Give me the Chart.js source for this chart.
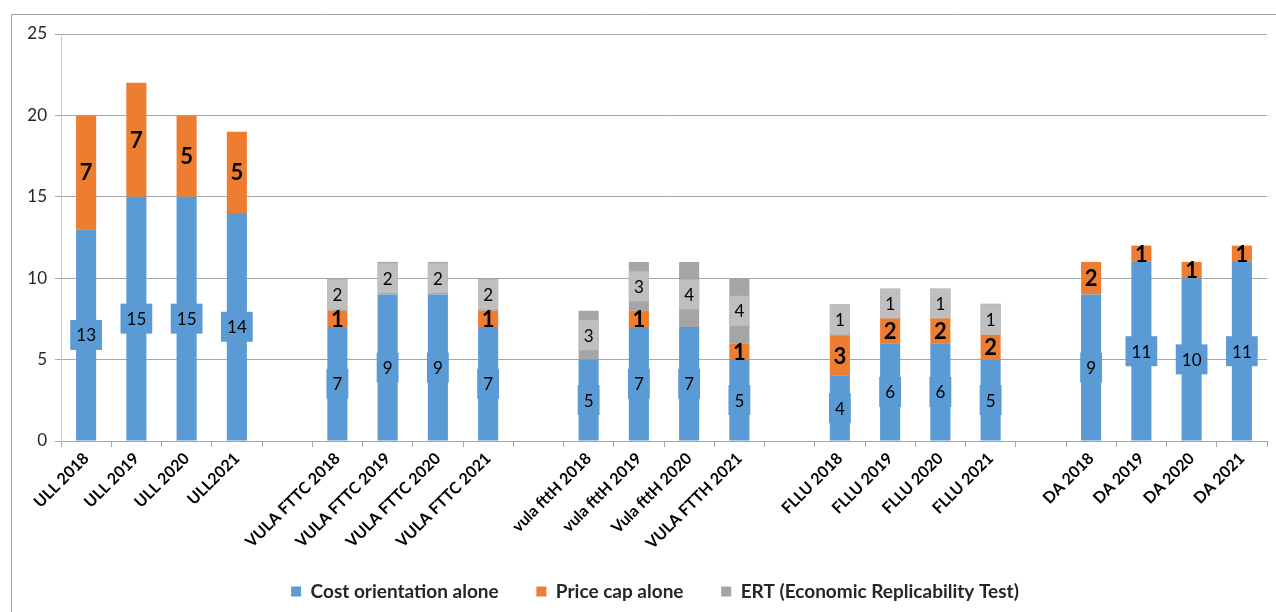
<!DOCTYPE html>
<html>
<head>
<meta charset="UTF-8" />
<script src="https://cdn.jsdelivr.net/npm/chart.js"></script>
<style>
  body, html { margin: 0; padding: 0; background: #fff; }
  #wrap { width: 1276px; height: 612px; }
</style>
</head>
<body>
<div id="wrap"><canvas id="myChart" width="1276" height="612"></canvas></div>
<script>
const categories = [
  'ULL 2018', 'ULL 2019', 'ULL 2020', 'ULL2021', '',
  'VULA FTTC 2018', 'VULA FTTC 2019', 'VULA FTTC 2020', 'VULA FTTC 2021', '',
  'vula fttH 2018', 'vula fttH 2019', 'Vula fttH 2020', 'VULA FTTH 2021', '',
  'FLLU 2018', 'FLLU 2019', 'FLLU 2020', 'FLLU 2021', '',
  'DA 2018', 'DA 2019', 'DA 2020', 'DA 2021'
];
const costOrientation = [13, 15, 15, 14, null, 7, 9, 9, 7, null, 5, 7, 7, 5, null, 4, 6, 6, 5, null, 9, 11, 10, 11];
const priceCap = [7, 7, 5, 5, null, 1, 0, 0, 1, null, 0, 1, 0, 1, null, 2.5, 1.55, 1.55, 1.53, null, 2, 1, 1, 1];
const ert = [0, 0, 0, 0, null, 2, 2, 2, 2, null, 3, 3, 4, 4, null, 1.9, 1.8, 1.8, 1.9, null, 0, 0, 0, 0];
// labels as printed on the bars
const costLabels = [13, 15, 15, 14, null, 7, 9, 9, 7, null, 5, 7, 7, 5, null, 4, 6, 6, 5, null, 9, 11, 10, 11];
const priceLabels = [7, 7, 5, 5, null, 1, null, null, 1, null, null, 1, null, 1, null, 3, 2, 2, 2, null, 2, 1, 1, 1];
const ertLabels = [null, null, null, null, null, 2, 2, 2, 2, null, 3, 3, 4, 4, null, 1, 1, 1, 1, null, null, null, null, null];
const yTicks = [0, 5, 10, 15, 20, 25];

const FONT = 'Lato, "Open Sans", sans-serif';
const BLUE = '#5b9bd5', ORANGE = '#ed7d31', GRAY = '#a5a5a5';

const frame = {
  id: 'frame',
  afterLayout(chart) {
    // legend sits a bit right of centre in the original
    chart.legend.left += 16;
    chart.legend.right += 16;
  },
  beforeDraw(chart) {
    const c = chart.ctx;
    c.save();
    c.strokeStyle = '#a0a0a0';
    c.lineWidth = 1;
    c.beginPath();
    c.moveTo(11.5, 612);
    c.lineTo(11.5, 14.5);
    c.lineTo(1276, 14.5);
    c.stroke();
    c.restore();
  }
};

const barLabels = {
  id: 'barLabels',
  afterDatasetsDraw(chart) {
    const c = chart.ctx;
    const sets = [
      { labels: costLabels, box: BLUE, font: 'normal 17px ' + FONT, pad: 6 },
      { labels: priceLabels, box: null, font: 'bold 22px ' + FONT, pad: 0 },
      { labels: ertLabels, box: '#bfbfbf', font: 'normal 17px ' + FONT, pad: 0 }
    ];
    c.save();
    c.textAlign = 'center';
    c.textBaseline = 'middle';
    sets.forEach((s, i) => {
      const meta = chart.getDatasetMeta(i);
      meta.data.forEach((bar, j) => {
        const lab = s.labels[j];
        if (lab === null || lab === undefined) return;
        const cy = (bar.y + bar.base) / 2;
        c.font = s.font;
        const tw = c.measureText(String(lab)).width;
        if (s.box) {
          const w = Math.max(tw + s.pad * 2, bar.width);
          c.fillStyle = s.box;
          c.fillRect(bar.x - w / 2, cy - 15, w, 30);
        }
        c.fillStyle = '#000';
        c.fillText(String(lab), bar.x, cy + 1);
      });
    });
    c.restore();
  }
};

new Chart(document.getElementById('myChart').getContext('2d'), {
  type: 'bar',
  data: {
    labels: categories,
    datasets: [
      { label: 'Cost orientation alone', data: costOrientation, backgroundColor: BLUE },
      { label: 'Price cap alone', data: priceCap, backgroundColor: ORANGE },
      { label: 'ERT (Economic Replicability Test)', data: ert, backgroundColor: GRAY }
    ]
  },
  options: {
    responsive: false,
    animation: false,
    barPercentage: 0.4,
    categoryPercentage: 1,
    layout: { padding: { left: 11, top: 34, right: 9, bottom: 1 } },
    plugins: {
      tooltip: { enabled: false },
      legend: {
        position: 'bottom',
        labels: {
          boxWidth: 10,
          boxHeight: 10,
          padding: 10,
          color: '#262626',
          font: { family: FONT, size: 19, weight: 'bold' },
          generateLabels(chart) {
            const items = Chart.defaults.plugins.legend.labels.generateLabels(chart);
            // wider gaps between the legend entries
            items.forEach((it, k) => { if (k < items.length - 1) it.text += '      '; });
            return items;
          }
        }
      }
    },
    scales: {
      x: {
        stacked: true,
        grid: { drawOnChartArea: false, drawTicks: true, tickLength: 6, color: '#a6a6a6' },
        border: { color: '#a6a6a6' },
        ticks: {
          autoSkip: false,
          minRotation: 45,
          maxRotation: 45,
          padding: 2,
          color: '#000',
          font: { family: FONT, size: 16, weight: 'bold' }
        },
        afterFit: s => { s.height = 131; }
      },
      y: {
        stacked: true,
        min: 0,
        max: 25,
        afterBuildTicks: s => { s.ticks = yTicks.map(v => ({ value: v })); },
        grid: { color: '#a6a6a6', tickLength: 6 },
        border: { color: '#c8c8c8' },
        ticks: {
          padding: 8,
          color: '#262626',
          font: { family: FONT, size: 17 }
        },
        afterFit: s => { s.width = 50; }
      }
    }
  },
  plugins: [frame, barLabels]
});
</script>
</body>
</html>
